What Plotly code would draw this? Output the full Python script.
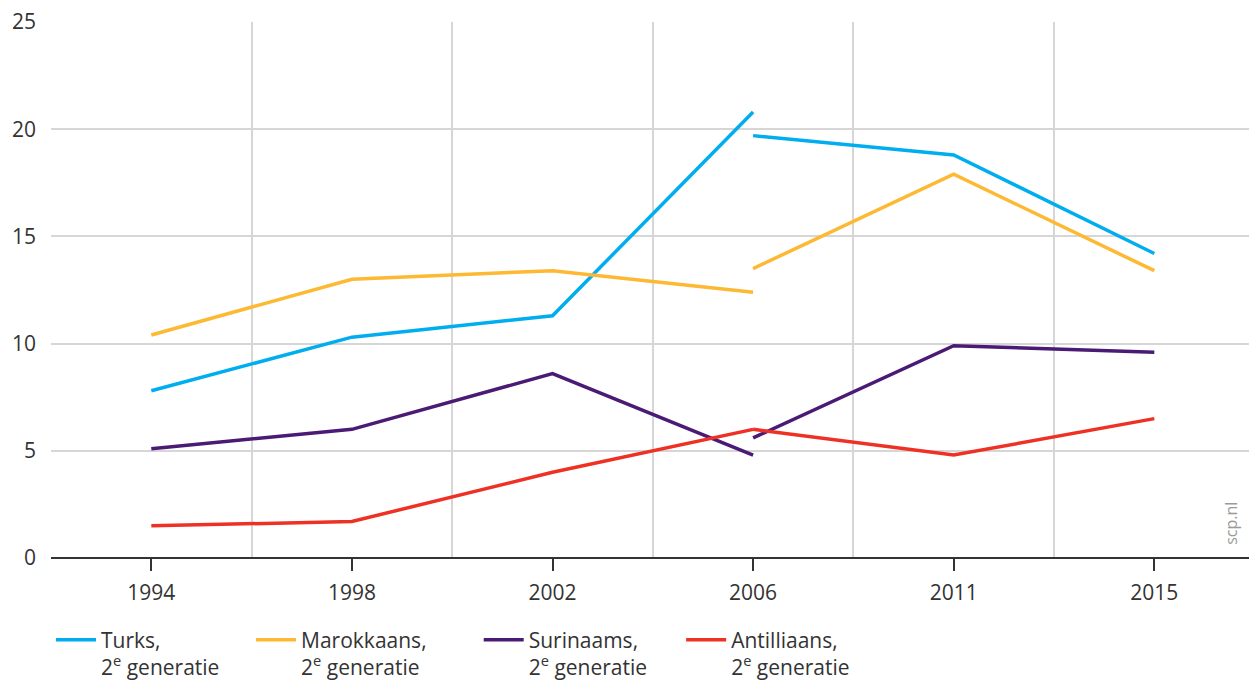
import plotly.graph_objects as go

# Survey years on the horizontal axis (2006 carries a method break)
years = ["1994", "1998", "2002", "2006", "2011", "2015"]

# Values per group: series up to 2006 (old method) and from 2006 on (new method)
turks_old = [7.8, 10.3, 11.3, 20.8]
turks_new = [19.7, 18.8, 14.2]
marokkaans_old = [10.4, 13.0, 13.4, 12.4]
marokkaans_new = [13.5, 17.9, 13.4]
surinaams_old = [5.1, 6.0, 8.6, 4.8]
surinaams_new = [5.6, 9.9, 9.6]
antilliaans_old = [1.5, 1.7, 4.0, 6.0]
antilliaans_new = [6.0, 4.8, 6.5]

labels = ["Turks,", "Marokkaans,", "Surinaams,", "Antilliaans,"]
colors = ["#00AEEF", "#FDB933", "#4A1A74", "#EE3124"]

series = [
    (turks_old, turks_new),
    (marokkaans_old, marokkaans_new),
    (surinaams_old, surinaams_new),
    (antilliaans_old, antilliaans_new),
]

FONT = "Open Sans"
TXT = "#333333"

idx = list(range(len(years)))
brk = years.index("2006")

fig = go.Figure()
legend_x = [0.0, 0.167, 0.357, 0.526]
for i, ((old, new), name, col) in enumerate(zip(series, labels, colors)):
    xs = idx[: brk + 1] + [None] + idx[brk:]
    ys = old + [None] + new
    lg = "legend" if i == 0 else f"legend{i + 1}"
    fig.add_trace(
        go.Scatter(
            x=xs,
            y=ys,
            mode="lines",
            name=f"{name}<br>2<sup>e</sup> generatie",
            line=dict(color=col, width=3.5),
            connectgaps=False,
            legend=lg,
            hoverinfo="skip",
        )
    )

legend_common = dict(
    orientation="v",
    yanchor="top",
    xanchor="left",
    y=-0.115,
    font=dict(family=FONT, size=21, color=TXT),
    bgcolor="rgba(0,0,0,0)",
    valign="top",
    itemwidth=40,
    tracegroupgap=0,
)

fig.update_layout(
    width=1249,
    height=686,
    margin=dict(l=51, r=0, t=22, b=128, autoexpand=False),
    paper_bgcolor="white",
    plot_bgcolor="white",
    font=dict(family=FONT, size=21, color=TXT),
    showlegend=True,
    legend=dict(x=legend_x[0], **legend_common),
    legend2=dict(x=legend_x[1], **legend_common),
    legend3=dict(x=legend_x[2], **legend_common),
    legend4=dict(x=legend_x[3], **legend_common),
    xaxis=dict(
        range=[-0.5, 5.472],
        tickmode="array",
        tickvals=idx,
        ticktext=years,
        showgrid=False,
        zeroline=False,
        showline=False,
        ticks="outside",
        ticklen=12,
        tickwidth=2,
        tickcolor="#333333",
        ticklabelstandoff=4,
        tickfont=dict(family=FONT, size=21, color=TXT),
        minor=dict(
            tickmode="array",
            tickvals=[-0.5, 0.5, 1.5, 2.5, 3.5, 4.5, 5.5],
            showgrid=True,
            gridcolor="#d6d6d6",
            gridwidth=2,
            ticks="",
        ),
        fixedrange=True,
    ),
    yaxis=dict(
        range=[0, 25],
        tickmode="array",
        tickvals=[0, 5, 10, 15, 20, 25],
        showgrid=True,
        gridcolor="#d6d6d6",
        gridwidth=2,
        zeroline=True,
        zerolinecolor="#333333",
        zerolinewidth=2,
        showline=False,
        ticks="",
        ticklabelstandoff=14,
        tickfont=dict(family=FONT, size=21, color=TXT),
        fixedrange=True,
    ),
    annotations=[
        dict(
            text="scp.nl",
            xref="paper",
            yref="paper",
            x=0.985,
            y=0.02,
            xanchor="center",
            yanchor="bottom",
            textangle=-90,
            showarrow=False,
            font=dict(family=FONT, size=16, color="#9a9a9a"),
        )
    ],
)

fig.write_html("out.html")
